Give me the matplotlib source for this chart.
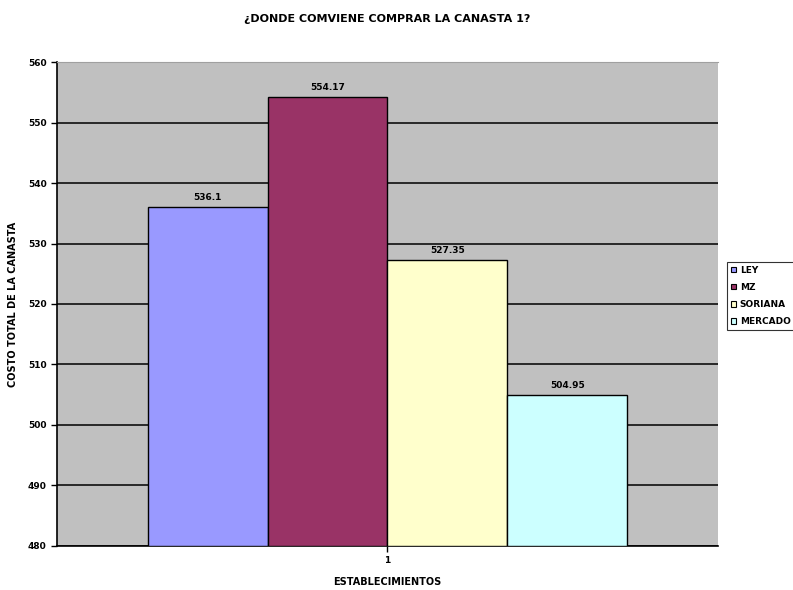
import matplotlib.pyplot as plt
from matplotlib.patches import Patch

stores = ["LEY", "MZ", "SORIANA", "MERCADO"]
totals = [536.1, 554.17, 527.35, 504.95]
labels = ["536.1", "554.17", "527.35", "504.95"]
colors = ["#9999FF", "#993366", "#FFFFCC", "#CCFFFF"]

plt.rcParams["font.family"] = "DejaVu Sans"
plt.rcParams["font.weight"] = "bold"

fig = plt.figure(figsize=(7.93, 5.90), dpi=100)
fig.patch.set_facecolor("white")
ax = fig.add_axes([0.0719, 0.0746, 0.8335, 0.8203])
ax.set_facecolor("#C0C0C0")

w = 0.1815
offsets = [-1.5, -0.5, 0.5, 1.5]
for i, (name, val) in enumerate(zip(stores, totals)):
    x = 1 + offsets[i] * w
    ax.bar(x, val - 480, bottom=480, width=w, color=colors[i],
           edgecolor="black", linewidth=1.0, zorder=3, label=name)
    ax.text(x, val + 0.8, labels[i], ha="center", va="bottom",
            fontsize=6.5, fontweight="bold", zorder=4)

ax.set_xlim(0.5, 1.5)
ax.set_ylim(480, 560)
ax.set_yticks(range(480, 561, 10))
ax.set_xticks([1])
ax.set_xticklabels(["1"])
ax.yaxis.grid(True, color="black", linewidth=1.1, zorder=0)
ax.set_axisbelow(True)
ax.tick_params(axis="both", labelsize=6.5, length=4, width=1.0, color="black")

ax.spines["left"].set_color("black")
ax.spines["left"].set_linewidth(1.2)
ax.spines["bottom"].set_color("black")
ax.spines["bottom"].set_linewidth(1.2)
ax.spines["top"].set_color("#A0A0A0")
ax.spines["right"].set_visible(False)

ax.set_title("¿DONDE COMVIENE COMPRAR LA CANASTA 1?", fontsize=8,
             fontweight="bold", pad=29)
ax.set_xlabel("ESTABLECIMIENTOS", fontsize=7, fontweight="bold", labelpad=8)
ax.set_ylabel("COSTO TOTAL DE LA CANASTA", fontsize=7, fontweight="bold")
ax.yaxis.set_label_coords(-0.059, 0.5)

handles = [Patch(facecolor=c, edgecolor="black", linewidth=0.8) for c in colors]
leg = fig.legend(handles, stores, loc="upper left",
                 bbox_to_anchor=(0.917, 0.556), fontsize=6.5,
                 handlelength=0.6, handleheight=0.6, handletextpad=0.4,
                 borderpad=0.4, labelspacing=0.9, frameon=True,
                 fancybox=False, borderaxespad=0)
leg.get_frame().set_edgecolor("black")
leg.get_frame().set_linewidth(0.8)

fig.savefig("out.png", dpi=100)
